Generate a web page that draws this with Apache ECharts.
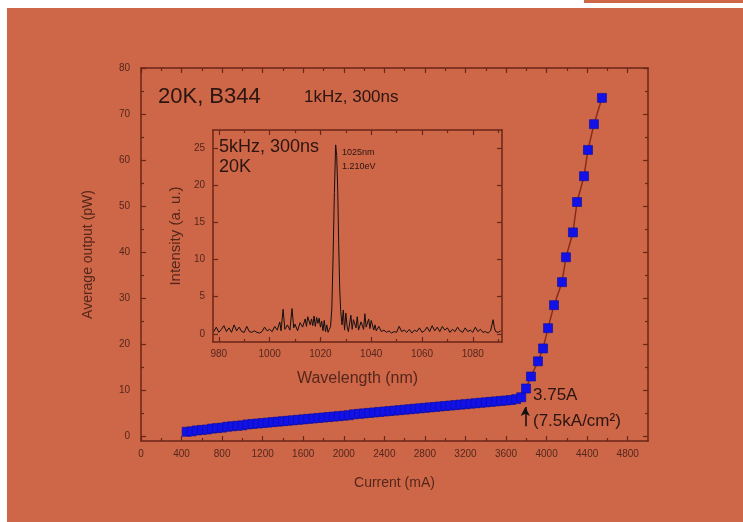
<!DOCTYPE html>
<html>
<head>
<meta charset="utf-8">
<script src="https://cdn.jsdelivr.net/npm/echarts@6/dist/echarts.min.js"></script>
<style>
  html, body { margin: 0; padding: 0; background: #ffffff; width: 743px; height: 522px; overflow: hidden; }
  #bg { position: absolute; left: 7px; top: 8px; right: 0; bottom: 0; background: #ce6648; }
  #strip { position: absolute; left: 584px; top: 0; width: 159px; height: 3px; background: #ce6648; }
  #chart { position: absolute; left: 0; top: 0; width: 743px; height: 522px; }
</style>
</head>
<body>
<div id="bg"></div>
<div id="strip"></div>
<div id="chart"></div>
<script>
// ---- Main curve: current (mA) vs average output (pW) ----
const currentDense = [450,500,550,600,650,700,750,800,850,900,950,1000,1050,1100,1150,1200,1250,1300,1350,1400,1450,1500,1550,1600,1650,1700,1750,1800,1850,1900,1950,2000,2050,2100,2150,2200,2250,2300,2350,2400,2450,2500,2550,2600,2650,2700,2750,2800,2850,2900,2950,3000,3050,3100,3150,3200,3250,3300,3350,3400,3450,3500,3550,3600,3650,3700,3750];
const outputDense = [1.0,1.1,1.3,1.4,1.5,1.7,1.8,1.9,2.1,2.2,2.3,2.4,2.6,2.7,2.8,2.9,3.0,3.1,3.2,3.3,3.4,3.5,3.6,3.7,3.8,3.9,4.0,4.1,4.2,4.3,4.4,4.5,4.6,4.8,4.9,5.0,5.1,5.2,5.3,5.4,5.5,5.6,5.7,5.8,5.9,6.0,6.1,6.2,6.3,6.4,6.5,6.6,6.7,6.8,6.9,7.0,7.1,7.2,7.3,7.4,7.5,7.6,7.7,7.8,7.9,8.1,8.5];
const currentLasing = [3797,3846,3915,3965,4014,4073,4152,4191,4260,4300,4369,4408,4467,4546];
const outputLasing = [10.4,13.0,16.3,19.1,23.5,28.5,33.5,38.9,44.3,50.9,56.5,62.2,67.8,73.5];

// ---- Inset spectrum: wavelength (nm) vs intensity (a.u.) ----
const wavelength = [978,979,980,981,982,983,984,985,986,987,988,989,990,991,992,993,994,995,996,997,998,999,1000,1001,1002,1003,1004,1004.5,1005.3,1006,1007,1008,1008.8,1009.5,1010,1011,1012,1013,1014,1014.5,1015,1016,1016.5,1017,1017.5,1018,1018.5,1019,1019.5,1020,1020.5,1021,1021.5,1022,1022.5,1023,1023.5,1024,1024.5,1025,1025.5,1026,1026.4,1026.8,1027.2,1027.6,1028,1028.5,1029,1029.5,1030,1030.5,1031,1032,1032.5,1033,1034,1034.5,1035,1036,1037,1037.5,1038,1039,1039.5,1040,1041,1041.5,1042,1043,1044,1045,1046,1047,1048,1049,1050,1051,1052,1053,1054,1055,1056,1057,1058,1059,1060,1061,1062,1063,1064,1065,1066,1067,1068,1069,1070,1071,1072,1073,1074,1075,1076,1077,1078,1079,1080,1081,1082,1083,1084,1085,1086,1087,1088,1088.5,1089,1090,1091];
const intensity = [0.3,0.9,0.2,0.6,1.1,0.3,0.8,0.2,1.2,0.4,0.9,0.3,0.2,1.0,0.3,0.2,0.4,0.2,0.1,0.3,0.9,0.4,0.6,0.3,1.0,0.5,1.6,0.4,3.3,0.6,1.2,0.5,3.4,0.8,1.3,0.4,1.5,0.9,2.0,1.0,2.3,1.2,2.0,1.1,2.4,1.0,2.2,1.4,2.1,0.9,1.7,0.4,1.8,0.3,1.2,0.2,0.6,1.0,3.5,10.5,19.0,25.4,24.0,19.5,12.0,6.0,3.0,1.2,3.2,0.5,2.8,1.0,0.3,2.5,0.6,1.9,0.8,2.3,0.5,1.6,0.6,2.7,0.9,2.0,0.7,1.8,0.5,1.2,0.4,1.0,0.3,0.5,0.2,0.4,0.1,0.3,0.2,1.0,0.3,0.5,0.2,0.6,0.1,0.5,0.3,0.8,0.2,0.4,0.9,0.3,1.1,0.4,0.9,0.3,1.0,0.5,0.8,0.2,0.6,0.3,0.9,0.4,0.2,0.8,0.3,0.5,0.2,0.9,0.3,0.6,0.2,0.3,0.1,0.4,1.9,0.8,0.3,0.2,0.4];

// ---- Tick values ----
const xMajorTicks = [0,400,800,1200,1600,2000,2400,2800,3200,3600,4000,4400,4800];
const xMinorTicks = [200,600,1000,1400,1800,2200,2600,3000,3400,3800,4200,4600];
const yMajorTicks = [0,10,20,30,40,50,60,70,80];
const yMinorTicks = [5,15,25,35,45,55,65,75];
const wlMajorTicks = [980,1000,1020,1040,1060,1080];
const wlMinorTicks = [990,1010,1030,1050,1070,1090];
const intMajorTicks = [0,5,10,15,20,25];

const mainData = currentDense.map((c, i) => [c, outputDense[i]])
  .concat(currentLasing.map((c, i) => [c, outputLasing[i]]));
const specData = wavelength.map((w, i) => [w, intensity[i]]);

const AX = '#6a2616';
const LBL = '#55271b';
const FONT = 'Liberation Sans, Arial, sans-serif';

function axis(gridIndex, position, min, max, o) {
  return {
    type: 'value', gridIndex, position, min, max,
    splitLine: { show: false },
    axisLine: { show: !!o.line, onZero: false, lineStyle: { color: AX, width: 1.5 } },
    axisTick: { show: true, inside: true, length: o.tickLen || 5, customValues: o.ticks, lineStyle: { color: AX, width: 1.2 } },
    axisLabel: o.labels ? { show: true, customValues: o.labels, formatter: (v) => String(v), color: LBL, fontSize: o.fontSize || 10, fontFamily: FONT, margin: o.margin || 8 } : { show: false },
    name: o.name || '', nameLocation: 'middle', nameGap: o.nameGap || 30,
    nameTextStyle: { color: LBL, fontSize: o.nameSize || 14, fontFamily: FONT },
    axisPointer: { show: false }
  };
}

const XMIN = 0, XMAX = 5000, YMIN = -1, YMAX = 80;
const WMIN = 977.7, WMAX = 1091.5, IMIN = -1.1, IMAX = 27.4;

const option = {
  animation: false,
  backgroundColor: 'transparent',
  grid: [
    { left: 141, top: 68, right: 95, bottom: 81 },
    { left: 213, top: 130, right: 241, bottom: 180 }
  ],
  xAxis: [
    axis(0, 'bottom', XMIN, XMAX, { line: true, ticks: xMajorTicks, labels: xMajorTicks, margin: 8, name: 'Current (mA)', nameGap: 35, nameSize: 14 }),
    axis(0, 'bottom', XMIN, XMAX, { ticks: xMinorTicks, tickLen: 3 }),
    axis(0, 'top', XMIN, XMAX, { line: true, ticks: xMajorTicks }),
    axis(0, 'top', XMIN, XMAX, { ticks: xMinorTicks, tickLen: 3 }),
    axis(1, 'bottom', WMIN, WMAX, { line: true, ticks: wlMajorTicks, labels: wlMajorTicks, margin: 7, name: 'Wavelength (nm)', nameGap: 29, nameSize: 16 }),
    axis(1, 'bottom', WMIN, WMAX, { ticks: wlMinorTicks, tickLen: 3 }),
    axis(1, 'top', WMIN, WMAX, { line: true, ticks: wlMajorTicks }),
    axis(1, 'top', WMIN, WMAX, { ticks: wlMinorTicks, tickLen: 3 })
  ],
  yAxis: [
    axis(0, 'left', YMIN, YMAX, { line: true, ticks: yMajorTicks, labels: yMajorTicks, margin: 11, name: 'Average output (pW)', nameGap: 46, nameSize: 14 }),
    axis(0, 'left', YMIN, YMAX, { ticks: yMinorTicks, tickLen: 3 }),
    axis(0, 'right', YMIN, YMAX, { line: true, ticks: yMajorTicks }),
    axis(0, 'right', YMIN, YMAX, { ticks: yMinorTicks, tickLen: 3 }),
    axis(1, 'left', IMIN, IMAX, { line: true, ticks: intMajorTicks, labels: intMajorTicks, margin: 8, name: 'Intensity (a. u.)', nameGap: 30, nameSize: 15 }),
    axis(1, 'right', IMIN, IMAX, { line: true, ticks: intMajorTicks })
  ],
  series: [
    {
      type: 'line', xAxisIndex: 0, yAxisIndex: 0, data: mainData,
      symbol: 'rect', symbolSize: 9,
      itemStyle: { color: '#1212e8', borderColor: '#0c0c99', borderWidth: 0.6 },
      lineStyle: { color: '#8a2c1c', width: 1.5 },
      z: 5,
      markLine: {
        silent: true, symbol: ['none', 'arrow'], symbolSize: [7, 9], animation: false,
        lineStyle: { color: '#111111', width: 1.5, type: 'solid' },
        label: { show: false },
        data: [[{ coord: [3790, 2.2] }, { coord: [3790, 6.4] }]]
      }
    },
    {
      type: 'line', xAxisIndex: 4, yAxisIndex: 4, data: specData,
      symbol: 'none', lineStyle: { color: '#141010', width: 1 }, z: 4
    }
  ],
  graphic: [
    { type: 'text', left: 158, top: 86, style: { text: '20K, B344', fill: '#2a1510', font: '22px ' + FONT } },
    { type: 'text', left: 304, top: 89, style: { text: '1kHz, 300ns', fill: '#2a1510', font: '17px ' + FONT } },
    { type: 'text', left: 219, top: 138, style: { text: '5kHz, 300ns', fill: '#2a1510', font: '18px ' + FONT } },
    { type: 'text', left: 219, top: 158, style: { text: '20K', fill: '#2a1510', font: '18px ' + FONT } },
    { type: 'text', left: 342, top: 148, style: { text: '1025nm', fill: '#2a1510', font: '9px ' + FONT } },
    { type: 'text', left: 342, top: 162, style: { text: '1.210eV', fill: '#2a1510', font: '9px ' + FONT } },
    { type: 'text', left: 533, top: 387, style: { text: '3.75A', fill: '#2a1510', font: '17px ' + FONT } },
    { type: 'text', left: 533, top: 413, style: { text: '(7.5kA/cm²)', fill: '#2a1510', font: '17px ' + FONT } }
  ]
};

const chart = echarts.init(document.getElementById('chart'), null, { renderer: 'canvas' });
chart.setOption(option);
</script>
</body>
</html>
